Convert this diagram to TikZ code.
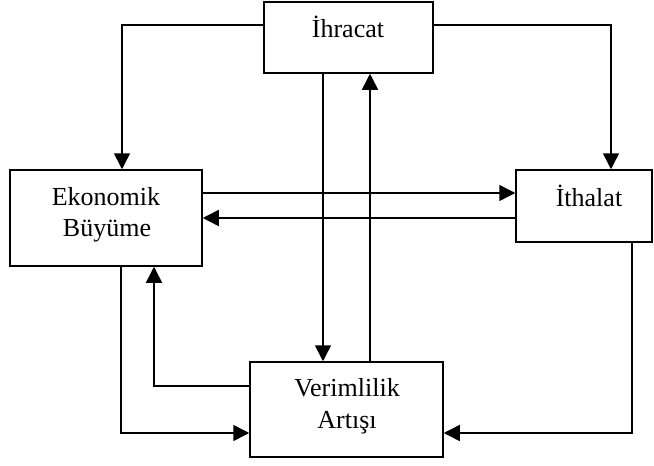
\documentclass[tikz,border=0pt]{standalone}
\usepackage{fontspec}
\setmainfont{Liberation Serif}
\usetikzlibrary{arrows.meta,calc}
\begin{document}
\begin{tikzpicture}[x=1pt,y=-1pt,
  box/.style={draw,line width=1.5pt,rectangle,inner sep=0pt},
  lbl/.style={anchor=base,inner sep=0pt,font=\fontsize{26}{31}\selectfont},
  arr/.style={line width=1.5pt,-{Triangle[length=16pt,width=16pt]}},
  ln/.style={line width=1.5pt}]
\useasboundingbox (0,0) rectangle (654,466);
% boxes
\node[box,minimum width=169pt,minimum height=71pt] (ihr) at (348.5,37.5) {};
\node[box,minimum width=192pt,minimum height=96pt] (eko) at (106,218) {};
\node[box,minimum width=136pt,minimum height=72pt] (ith) at (584,206) {};
\node[box,minimum width=193pt,minimum height=95pt] (ver) at (346.5,409.5) {};
% texts
\node[lbl] (tihr) at (348,37) {İhracat};
\node[lbl] (teko1) at (106,205) {Ekonomik};
\node[lbl] (teko2) at (107,236) {Büyüme};
\node[lbl] (tith) at (589,206) {İthalat};
\node[lbl] (tver1) at (347,396) {Verimlilik};
\node[lbl] (tver2) at (347,428) {Artışı};
% connectors
\coordinate (a1) at (ihr.west |- 0,25);
\coordinate (a2) at (122,25);
\draw[arr] (a1) -- (a2) -- (a2 |- eko.north);
\coordinate (b1) at (ihr.east |- 0,25);
\coordinate (b2) at (611,25);
\draw[arr] (b1) -- (b2) -- (b2 |- ith.north);
\coordinate (c1) at (323,0);
\draw[arr] (c1 |- ihr.south) -- (c1 |- ver.north);
\coordinate (d1) at (370,0);
\draw[arr] (d1 |- ver.north) -- (d1 |- ihr.south);
\coordinate (e1) at (0,193);
\draw[arr] (eko.east |- e1) -- (ith.west |- e1);
\coordinate (f1) at (0,218);
\draw[arr] (ith.west |- f1) -- (eko.east |- f1);
\coordinate (g1) at (121,433);
\draw[arr] (g1 |- eko.south) -- (g1) -- (ver.west |- g1);
\coordinate (h1) at (154,386);
\draw[arr] (ver.west |- h1) -- (h1) -- (h1 |- eko.south);
\coordinate (k1) at (632,433);
\draw[arr] (k1 |- ith.south) -- (k1) -- (ver.east |- k1);
\end{tikzpicture}
\end{document}
